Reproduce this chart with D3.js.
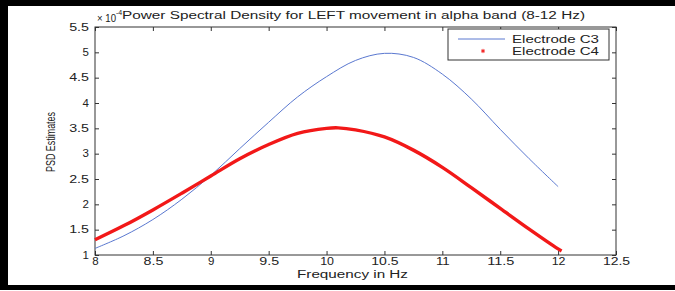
<!DOCTYPE html>
<html lang="en">
<head>
<meta charset="UTF-8">
<title>PSD LEFT movement alpha band</title>
<style>
  html, body { margin: 0; padding: 0; background: #fff; overflow: hidden; }
  svg { display: block; }
  svg text { font-family: "Liberation Sans", Arial, sans-serif; fill: #222; }
</style>
</head>
<body>
<div id="chart"></div>
<script src="https://cdnjs.cloudflare.com/ajax/libs/d3/7.8.5/d3.min.js"></script>
<script>
// values (PSD in units of 10^-4)
const freqC3 = [8, 8.25, 8.5, 8.75, 9, 9.25, 9.5, 9.75, 10, 10.25, 10.5, 10.75, 11, 11.25, 11.5, 11.75, 12];
const psdC3  = [1.13, 1.38, 1.70, 2.10, 2.57, 3.10, 3.62, 4.12, 4.52, 4.84, 4.98, 4.90, 4.57, 4.08, 3.48, 2.90, 2.35];

const freqC4 = [8, 8.25, 8.5, 8.75, 9, 9.25, 9.5, 9.75, 10, 10.1, 10.25, 10.5, 10.75, 11, 11.25, 11.5, 11.75, 12, 12.03];
const psdC4  = [1.30, 1.58, 1.89, 2.22, 2.56, 2.90, 3.18, 3.40, 3.50, 3.51, 3.47, 3.33, 3.07, 2.73, 2.33, 1.92, 1.51, 1.12, 1.08];

const xTicks = [8, 8.5, 9, 9.5, 10, 10.5, 11, 11.5, 12, 12.5];
const yTicks = [1, 1.5, 2, 2.5, 3, 3.5, 4, 4.5, 5, 5.5];
const seriesNames = ['Electrode C3', 'Electrode C4'];

const w = 675, h = 291;
const mLeft = 95, mRight = 616, mTop = 27, mBottom = 255;

const svg = d3.select('#chart').append('svg')
    .attr('width', w)
    .attr('height', h);

svg.append('rect').attr('width', w).attr('height', h).attr('fill', '#fff');
// black frame strips of the scanned figure
svg.append('rect').attr('x', 0).attr('y', 0).attr('width', w).attr('height', 6).attr('fill', '#000');
svg.append('rect').attr('x', 0).attr('y', 0).attr('width', 8).attr('height', 290).attr('fill', '#000');
svg.append('rect').attr('x', 0).attr('y', 285).attr('width', w).attr('height', 5).attr('fill', '#000');

const x = d3.scaleLinear().domain([8, 12.5]).range([mLeft, mRight]);
const y = d3.scaleLinear().domain([1, 5.5]).range([mBottom, mTop]);

// rough widths so the stretched look of the scan is kept
const labelWidth = s => s.replace(/\./g, '').length * 7.4 + (s.includes('.') ? 6 : 0) - 1;

const axisColor = '#333';
function styleAxis(g) {
    g.select('.domain').remove();
    g.selectAll('line').attr('stroke', axisColor);
    g.selectAll('text')
        .attr('font-size', 10)
        .attr('fill', '#222')
        .attr('textLength', d => labelWidth(String(d)))
        .attr('lengthAdjust', 'spacingAndGlyphs');
}

svg.append('g')
    .attr('transform', `translate(0,${mBottom})`)
    .call(d3.axisBottom(x).tickValues(xTicks).tickFormat(d => String(d)).tickSizeInner(-4).tickSizeOuter(0).tickPadding(3))
    .call(styleAxis);
svg.append('g')
    .attr('transform', `translate(0,${mTop})`)
    .call(d3.axisTop(x).tickValues(xTicks).tickFormat('').tickSizeInner(-4).tickSizeOuter(0))
    .call(styleAxis);
svg.append('g')
    .attr('transform', `translate(${mLeft},0)`)
    .call(d3.axisLeft(y).tickValues(yTicks).tickFormat(d => String(d)).tickSizeInner(-4).tickSizeOuter(0).tickPadding(6))
    .call(styleAxis);
svg.append('g')
    .attr('transform', `translate(${mRight},0)`)
    .call(d3.axisRight(y).tickValues(yTicks).tickFormat('').tickSizeInner(-4).tickSizeOuter(0))
    .call(styleAxis);

// box
svg.append('rect')
    .attr('x', mLeft).attr('y', mTop)
    .attr('width', mRight - mLeft).attr('height', mBottom - mTop)
    .attr('fill', 'none').attr('stroke', axisColor).attr('stroke-width', 1);

// series
const c3 = freqC3.map((f, i) => [f, psdC3[i]]);
const c4 = freqC4.map((f, i) => [f, psdC4[i]]);
const line = d3.line().x(d => x(d[0])).y(d => y(d[1])).curve(d3.curveCatmullRom);

svg.append('path')
    .datum(c3)
    .attr('d', line)
    .attr('fill', 'none')
    .attr('stroke', '#5a78d0')
    .attr('stroke-width', 1);

svg.append('path')
    .datum(c4)
    .attr('d', line)
    .attr('fill', 'none')
    .attr('stroke', '#f21818')
    .attr('stroke-width', 3.4);

// title and exponent
svg.append('text')
    .attr('x', 97).attr('y', 22)
    .attr('font-size', 10)
    .attr('textLength', 19).attr('lengthAdjust', 'spacingAndGlyphs')
    .text('× 10');
svg.append('text')
    .attr('x', 116).attr('y', 15)
    .attr('font-size', 7)
    .text('-4');
svg.append('text')
    .attr('x', 122).attr('y', 19)
    .attr('font-size', 10)
    .attr('textLength', 463).attr('lengthAdjust', 'spacingAndGlyphs')
    .text('Power Spectral Density for LEFT movement in alpha band (8-12 Hz)');

// axis titles
svg.append('text')
    .attr('x', 297).attr('y', 278)
    .attr('font-size', 10)
    .attr('textLength', 111).attr('lengthAdjust', 'spacingAndGlyphs')
    .text('Frequency in Hz');
svg.append('text')
    .attr('transform', 'translate(55,172) rotate(-90)')
    .attr('font-size', 12)
    .attr('textLength', 60).attr('lengthAdjust', 'spacingAndGlyphs')
    .text('PSD Estimates');

// legend
const legend = svg.append('g').attr('transform', 'translate(448,29)');
legend.append('rect')
    .attr('width', 161).attr('height', 31)
    .attr('fill', '#fff').attr('stroke', axisColor);
legend.selectAll('.legend-label')
    .data(seriesNames)
    .enter()
    .append('text')
    .attr('class', 'legend-label')
    .attr('x', 64)
    .attr('y', (d, i) => 10 + i * 12)
    .attr('dy', '0.35em')
    .attr('font-size', 10)
    .attr('textLength', 87).attr('lengthAdjust', 'spacingAndGlyphs')
    .text(d => d);
legend.append('line')
    .attr('x1', 10).attr('x2', 57).attr('y1', 10).attr('y2', 10)
    .attr('stroke', '#5a78d0').attr('stroke-width', 1);
legend.append('path')
    .attr('d', d3.symbol(d3.symbolAsterisk || d3.symbolCross, 12)())
    .attr('transform', 'translate(35,22)')
    .attr('fill', '#f21818')
    .attr('stroke', '#f21818')
    .attr('stroke-width', 1);
</script>
</body>
</html>
